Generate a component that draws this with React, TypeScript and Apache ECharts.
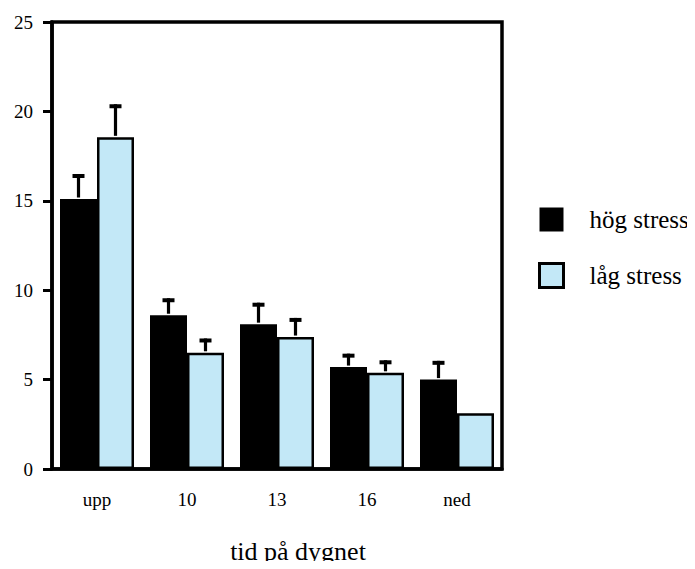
import React, { useEffect, useRef } from "react";
import * as echarts from "echarts";

const categories = ["upp", "10", "13", "16", "ned"];
const highStress = [15.1, 8.6, 8.1, 5.7, 5.0];
const highStressErr = [1.4, 0.95, 1.2, 0.75, 1.05];
const lowStress = [18.55, 6.5, 7.38, 5.38, 3.12];
const lowStressErr = [1.85, 0.8, 1.07, 0.7, 0];
const yTicks = { min: 0, max: 25, interval: 5 };
const seriesNames = ["hög stress", "låg stress"];

const FONT = "Liberation Serif";
const BAR_W = 37;

function errSeries(vals: number[], errs: number[], offset: number) {
  return {
    type: "custom",
    z: 5,
    silent: true,
    data: vals.map((v, i) => [i, v, errs[i]]),
    renderItem: (params: any, api: any) => {
      const i = api.value(0);
      const v = api.value(1);
      const e = api.value(2);
      if (!e) return { type: "group", children: [] };
      const base = api.coord([i, v]);
      const top = api.coord([i, v + e]);
      const x = base[0] + offset;
      return {
        type: "group",
        children: [
          {
            type: "rect",
            shape: { x: x - 1.6, y: top[1], width: 3.2, height: base[1] - top[1] - 1.5 },
            style: { fill: "#000" },
          },
          {
            type: "rect",
            shape: { x: x - 6, y: top[1], width: 12, height: 4 },
            style: { fill: "#000" },
          },
        ],
      };
    },
  };
}

export default function App() {
  const ref = useRef<HTMLDivElement>(null);
  useEffect(() => {
    const chart = echarts.init(ref.current!, undefined, { renderer: "svg" });
    chart.setOption({
      animation: false,
      textStyle: { fontFamily: FONT },
      grid: {
        left: 52,
        top: 22,
        width: 450,
        height: 450,
        show: true,
        borderColor: "#000",
        borderWidth: 3.5,
        backgroundColor: "transparent",
      },
      legend: {
        data: [
          { name: seriesNames[0], itemStyle: { color: "#000", borderColor: "#000", borderWidth: 0 } },
          { name: seriesNames[1], itemStyle: { color: "#C3E8F7", borderColor: "#000", borderWidth: 3 } },
        ],
        orient: "vertical",
        left: 538,
        top: 207,
        padding: 0,
        itemWidth: 24,
        itemHeight: 24,
        itemGap: 30,
        icon: "rect",
        selectedMode: false,
        textStyle: {
          fontFamily: FONT,
          fontSize: 25,
          color: "#000",
          padding: [0, 0, 0, 21],
          lineHeight: 24,
        },
      },
      xAxis: {
        type: "category",
        data: categories,
        boundaryGap: true,
        axisLine: { lineStyle: { color: "#000", width: 3.5 } },
        axisTick: { alignWithLabel: true, length: 11, lineStyle: { color: "#000", width: 3 } },
        axisLabel: { color: "#000", fontSize: 19, fontFamily: FONT, margin: 21 },
        name: "tid på dygnet",
        nameLocation: "middle",
        nameGap: 69,
        nameTextStyle: { color: "#000", fontSize: 26, fontFamily: FONT, padding: [0, 0, 0, 42] },
      },
      yAxis: {
        type: "value",
        min: yTicks.min,
        max: yTicks.max,
        interval: yTicks.interval,
        splitLine: { show: false },
        axisLine: { show: true, lineStyle: { color: "#000", width: 3.5 } },
        axisTick: { show: true, length: 9, lineStyle: { color: "#000", width: 3 } },
        axisLabel: { color: "#000", fontSize: 19, fontFamily: FONT, margin: 19 },
      },
      series: [
        {
          name: seriesNames[0],
          type: "bar",
          data: highStress,
          barWidth: BAR_W,
          barGap: "0%",
          itemStyle: { color: "#000" },
        },
        {
          name: seriesNames[1],
          type: "bar",
          data: lowStress,
          barWidth: BAR_W,
          barGap: "0%",
          itemStyle: { color: "#C3E8F7", borderColor: "#000", borderWidth: 2.5 },
        },
        errSeries(highStress, highStressErr, -BAR_W / 2),
        errSeries(lowStress, lowStressErr, BAR_W / 2),
      ],
    });
    return () => chart.dispose();
  }, []);
  return <div ref={ref} style={{ width: 695, height: 569, margin: -8 }} />;
}
